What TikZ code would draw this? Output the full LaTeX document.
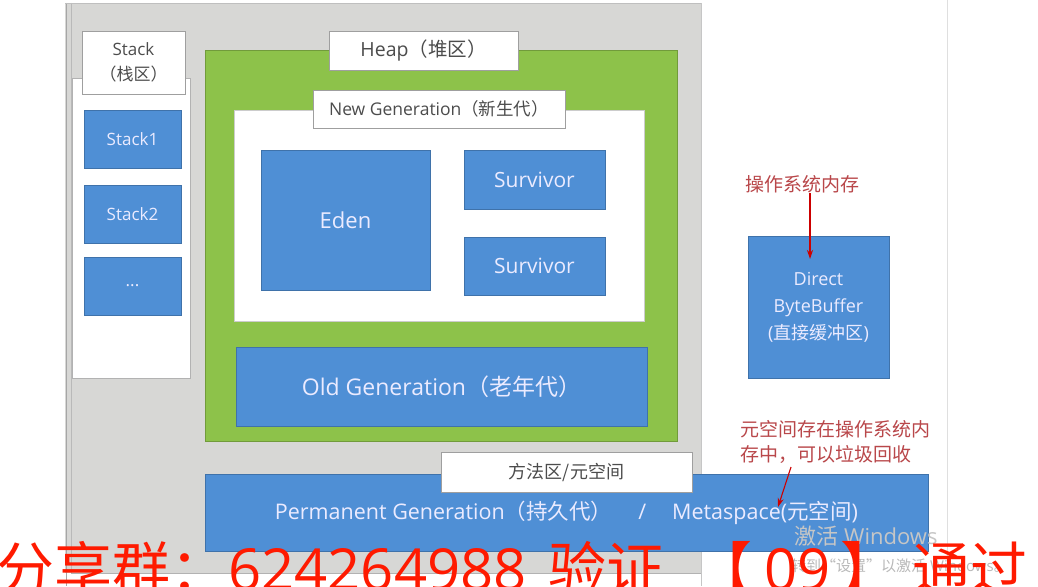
\documentclass[tikz,border=0pt]{standalone}
\usepackage{fontspec}
\setmainfont{Open Sans}
\newfontfamily\cjk{Noto Sans CJK SC}
\usetikzlibrary{arrows.meta, positioning}
\definecolor{panel}{HTML}{D7D7D5}
\definecolor{heapgreen}{HTML}{8DC24A}
\definecolor{boxblue}{HTML}{4F8FD5}
\definecolor{notered}{HTML}{B9474A}
\definecolor{markred}{HTML}{FF1A00}

\begin{document}
\begin{tikzpicture}[
  x=1pt, y=-1pt,
  font=\fontsize{17}{25}\selectfont,
  blk/.style={rectangle, draw=boxblue!80!black, line width=0.5pt, fill=boxblue,
              text=white!92!blue, inner sep=0pt, align=center},
  lbl/.style={rectangle, draw=gray!75, line width=0.6pt, fill=white,
              text=black!70, inner sep=0pt, align=center},
  note/.style={text=notered, inner sep=0pt, align=left,
               font=\cjk\fontsize{19}{25}\selectfont},
  pin/.style={-{Stealth[length=9pt, width=6pt]}, draw=red!80!black, line width=1.1pt}
]
  \useasboundingbox (0,0) rectangle (1038,586);

  % fenster / hintergrund
  \fill[white] (0,0) rectangle (1038,586);
  \fill[panel] (65,3) rectangle (701,573);
  \draw[gray!70, line width=0.8pt] (66,3) -- (66,586);
  \draw[gray!55, line width=0.6pt] (71,3) -- (71,573);
  \draw[gray!50, line width=0.6pt] (65,3) -- (701,3);
  \draw[gray!60, line width=0.6pt] (71,573) -- (701,573);
  \draw[gray!45, line width=0.6pt] (701,3) -- (701,586);
  \draw[gray!25, line width=0.6pt] (947,0) -- (947,586);

  % stack
  \node[lbl, draw=gray!60, minimum width=118pt, minimum height=300pt] (stk) at (131,228) {};
  \node[lbl, minimum width=103pt, minimum height=63pt] (stklbl) at (133.5,62.5) {Stack\\{\cjk（栈区）}};
  \node[blk, minimum width=97pt, minimum height=58pt] (s1) at (132.5,139) {Stack1};
  \node[blk, minimum width=97pt, minimum height=58pt] (s2) at (132.5,214) {Stack2};
  \node[blk, minimum width=97pt, minimum height=58pt] (s3) at (132.5,286) {...};

  % heap
  \node[rectangle, draw=heapgreen!80!black, line width=0.5pt, fill=heapgreen,
        minimum width=472pt, minimum height=391pt] (heap) at (441,245.5) {};
  \node[lbl, minimum width=189pt, minimum height=39pt,
        font=\fontsize{19.5}{22}\selectfont] (heaplbl) at (423.5,50.5) {Heap{\cjk（堆区）}};
  \node[lbl, draw=gray!40, minimum width=410pt, minimum height=211pt] (newgen) at (439,215.5) {};
  \node[lbl, minimum width=252pt, minimum height=38pt,
        font=\fontsize{17.5}{20}\selectfont] (newlbl) at (439,109) {New Generation{\cjk（新生代）}};
  \node[blk, minimum width=169pt, minimum height=140pt,
        font=\fontsize{22}{26}\selectfont] (eden) at (345.5,220) {Eden};
  \node[blk, minimum width=141pt, minimum height=59pt,
        font=\fontsize{21}{25}\selectfont] (sv1) at (534.5,179.5) {Survivor};
  \node[blk, minimum width=141pt, minimum height=58pt,
        font=\fontsize{21}{25}\selectfont] (sv2) at (534.5,266) {Survivor};
  \node[blk, minimum width=411pt, minimum height=79pt,
        font=\fontsize{23}{26}\selectfont] (old) at (441.5,386.5) {Old Generation{\cjk（老年代）}};

  % methodenbereich
  \node[blk, minimum width=723pt, minimum height=77pt,
        font=\fontsize{21.5}{24}\selectfont] (perm) at (566.5,513)
        {Permanent Generation{\cjk（持久代）}\hspace{26pt}/\hspace{26pt}Metaspace({\cjk 元空间})};
  \node[lbl, minimum width=251pt, minimum height=40pt,
        font=\cjk\fontsize{18}{22}\selectfont] (methlbl) at (566.5,472) {方法区/元空间};

  % direkter puffer
  \node[blk, minimum width=141pt, minimum height=142pt,
        font=\fontsize{18}{27}\selectfont] (dbb) at (818.5,307) {Direct\\ByteBuffer\\({\cjk 直接缓冲区})};

  % anmerkungen
  \node[note] (osmem) at (802,184) {操作系统内存};
  \coordinate (osend) at (810,259);
  \draw[pin] (osmem.south -| osend) -- (osend);

  \node[note] (metanote) at (835,442) {元空间存在操作系统内\\存中，可以垃圾回收};
  \coordinate (metastart) at (791,467);
  \coordinate (metaend) at (778,507);
  \draw[pin] (metastart) -- (metaend);

  % wasserzeichen
  \node[text=gray!45, inner sep=0pt, font=\fontsize{22}{24}\selectfont] (actv) at (866,536) {{\cjk 激活} Windows};
  \node[text=gray!55, inner sep=0pt, font=\fontsize{15}{18}\selectfont] (actv2) at (900,566) {{\cjk 转到“设置”以激活} Windows{\cjk 。}};
  \node[text=markred, anchor=base west, inner sep=0pt,
        font=\fontsize{58}{60}\selectfont] (share) at (-4,590)
        {{\cjk 分享群：}624264988\hspace{22pt}{\cjk 验证}\hspace{30pt}{\cjk 【}\hspace{12pt}09\hspace{10pt}{\cjk 】}\hspace{14pt}{\cjk 通过}};
\end{tikzpicture}
\end{document}
